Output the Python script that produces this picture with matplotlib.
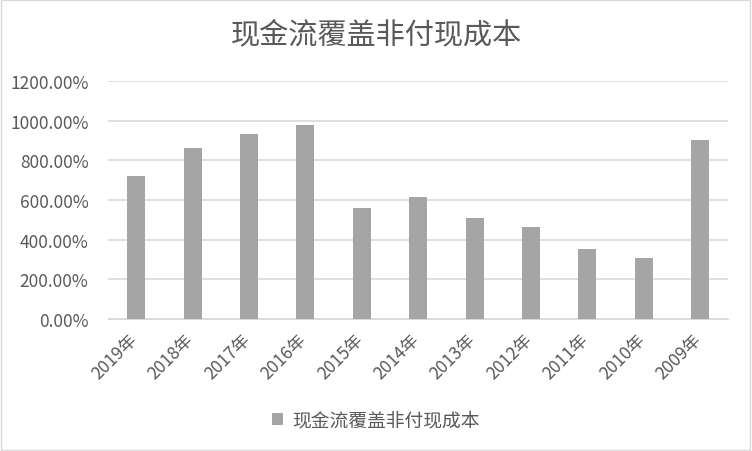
import matplotlib
matplotlib.use("Agg")
import matplotlib.pyplot as plt
from matplotlib.patches import Rectangle
from matplotlib.ticker import FuncFormatter
from matplotlib.transforms import ScaledTranslation

plt.rcParams['font.family'] = ['Noto Sans CJK SC', 'DejaVu Sans']

years = ["2019年", "2018年", "2017年", "2016年", "2015年", "2014年",
         "2013年", "2012年", "2011年", "2010年", "2009年"]
coverage = [722, 864, 934, 975, 558, 614, 508, 462, 353, 308, 904]

text_color = "#595959"
bar_color = "#a5a5a5"

fig = plt.figure(figsize=(7.52, 4.52), dpi=100)
ax = fig.add_axes([0.1436, 0.292, 0.825, 0.527])

x = range(len(years))
ax.bar(x, coverage, width=0.32, color=bar_color, label="现金流覆盖非付现成本", zorder=3)

ax.set_ylim(0, 1200)
ax.set_xlim(-0.5, len(years) - 0.5)
ax.set_yticks(range(0, 1201, 200))
ax.yaxis.set_major_formatter(FuncFormatter(lambda v, p: "%.2f%%" % v))
ax.grid(axis="y", color="#d9d9d9", linewidth=1.2, zorder=0)

ax.set_xticks(list(x))
ax.set_xticklabels(years, rotation=45, ha="right", rotation_mode="anchor")
ax.tick_params(axis="both", length=0, labelsize=12.5, colors=text_color)
ax.tick_params(axis="y", pad=14)
ax.tick_params(axis="x", pad=8)
shift = ScaledTranslation(-0.08, 0, fig.dpi_scale_trans)
for lbl in ax.get_xticklabels():
    lbl.set_transform(lbl.get_transform() + shift)
for s in ["top", "right", "left"]:
    ax.spines[s].set_visible(False)
ax.spines["bottom"].set_color("#d9d9d9")

fig.suptitle("现金流覆盖非付现成本", fontsize=21, color=text_color, y=0.955)

leg = fig.legend(loc="center", bbox_to_anchor=(0.5, 0.068), frameon=False,
                 fontsize=13.5, handlelength=0.55, handleheight=0.55, handletextpad=0.5)
for t in leg.get_texts():
    t.set_color(text_color)

fig.patches.append(Rectangle((0.001, 0.002), 0.997, 0.995, transform=fig.transFigure,
                             fill=False, edgecolor="#d9d9d9", linewidth=1))

fig.savefig("out.png", dpi=100)
